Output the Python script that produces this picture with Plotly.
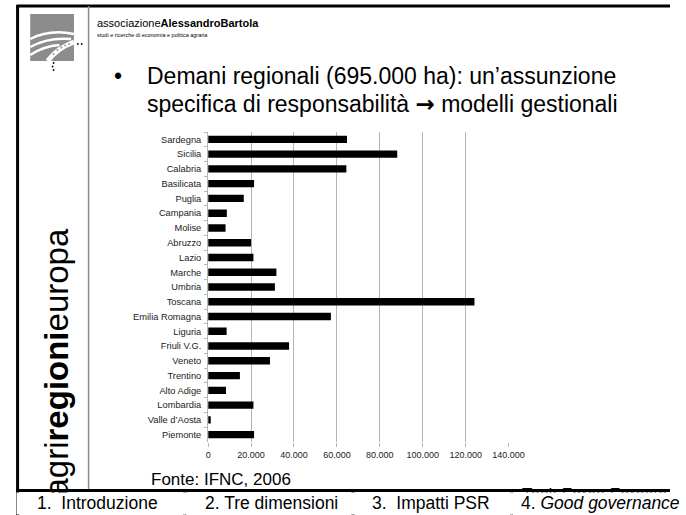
import plotly.graph_objects as go

# ---------------- data ----------------
regions = ["Sardegna", "Sicilia", "Calabria", "Basilicata", "Puglia", "Campania",
           "Molise", "Abruzzo", "Lazio", "Marche", "Umbria", "Toscana",
           "Emilia Romagna", "Liguria", "Friuli V.G.", "Veneto", "Trentino",
           "Alto Adige", "Lombardia", "Valle d’Aosta", "Piemonte"]
hectares = [64700, 88100, 64400, 21400, 16600, 8700,
            8100, 20000, 21100, 31800, 31100, 124100,
            57200, 8600, 37700, 28800, 14800,
            8300, 21100, 1200, 21400]
tick_values = [0, 20000, 40000, 60000, 80000, 100000, 120000, 140000]
tick_labels = ["0", "20.000", "40.000", "60.000", "80.000", "100.000", "120.000", "140.000"]
tabs = ["1.  Introduzione", "2. Tre dimensioni", "3.  Impatti PSR", "4. <i>Good governance</i>"]

W, H = 686, 515
FONT = "Liberation Sans, Arial, sans-serif"


def X(p):
    return p / W


def Y(p):
    return 1 - p / H


fig = go.Figure()
fig.add_trace(go.Bar(
    y=regions, x=hectares, orientation="h",
    marker=dict(color="#000000", line=dict(width=0)),
    hoverinfo="x+y",
))

fig.update_layout(
    width=W, height=H, autosize=False,
    margin=dict(l=0, r=0, t=0, b=0),
    paper_bgcolor="white", plot_bgcolor="white",
    showlegend=False, bargap=0.5,
    font=dict(family=FONT, color="#000"),
    xaxis=dict(
        domain=[X(211), X(520)], range=[0, 140000],
        tickvals=tick_values, ticktext=tick_labels,
        showgrid=True, gridcolor="#b5b5b5", gridwidth=1,
        zeroline=False, showline=False,
        ticks="outside", ticklen=4, tickcolor="#b5b5b5",
        tickfont=dict(size=9, color="#222", family=FONT),
        fixedrange=True,
    ),
    yaxis=dict(
        domain=[Y(442), Y(132)], autorange="reversed",
        type="category",
        showgrid=False, zeroline=False,
        showline=True, linecolor="#b5b5b5", linewidth=1,
        ticks="outside", tickson="boundaries", ticklen=3, tickcolor="#b5b5b5",
        tickfont=dict(size=9.3, color="#222", family=FONT),
        ticklabelstandoff=4,
        fixedrange=True,
    ),
)

shapes = []


def line(x0, y0, x1, y1, color="#000", width=3):
    shapes.append(dict(type="line", xref="paper", yref="paper",
                       x0=X(x0), y0=Y(y0), x1=X(x1), y1=Y(y1),
                       line=dict(color=color, width=width)))


# slide frame
line(15, 5, 15, 515)
line(14, 6, 686, 6)
line(88, 6, 88, 490, color="#8a8a8a", width=1.5)
line(14, 490.5, 686, 490.5)
for xd in (187, 360, 523):
    line(xd, 490, xd, 515)

# logo
shapes.append(dict(type="rect", xref="paper", yref="paper",
                   x0=X(28), y0=Y(61), x1=X(73), y1=Y(14),
                   fillcolor="#8c8c8c", line=dict(width=0)))


def path(d_pts, color="white", width=2.5):
    d = "M {} {} Q {} {} {} {}".format(X(d_pts[0]), Y(d_pts[1]), X(d_pts[2]), Y(d_pts[3]),
                                         X(d_pts[4]), Y(d_pts[5]))
    shapes.append(dict(type="path", xref="paper", yref="paper", path=d,
                       line=dict(color=color, width=width)))


path([28, 39, 48, 29, 73, 34])
path([28, 47, 46, 37, 70, 39])
path([28, 55, 42, 46, 58, 45])
path([46, 61, 56, 48, 73, 42], width=5)
for (cx, cy) in [(52, 54), (56, 50), (60, 47.5), (64, 45.5), (68, 44)]:
    shapes.append(dict(type="circle", xref="paper", yref="paper",
                       x0=X(cx - 0.9), x1=X(cx + 0.9), y0=Y(cy + 0.9), y1=Y(cy - 0.9),
                       fillcolor="#8c8c8c", line=dict(width=0)))
for (cx, cy) in [(77, 44), (81, 44), (52, 63), (51, 66.5), (52, 70)]:
    shapes.append(dict(type="circle", xref="paper", yref="paper",
                       x0=X(cx - 0.9), x1=X(cx + 0.9), y0=Y(cy + 0.9), y1=Y(cy - 0.9),
                       fillcolor="#000", line=dict(width=0)))

fig.update_layout(shapes=shapes)

ann = []


def text(x, y, t, size, xanchor="left", yanchor="middle", family=FONT, **kw):
    ann.append(dict(xref="paper", yref="paper", x=X(x), y=Y(y), text=t,
                    showarrow=False, xanchor=xanchor, yanchor=yanchor,
                    font=dict(size=size, family=family, color=kw.pop("color", "#000")), **kw))


# header
text(95, 23, "associazione<b>AlessandroBartola</b>", 11)
text(95, 35, "studi e ricerche di economia e politica agraria", 5.5)

# title
ARROW = "<span style='font-family:DejaVu Sans;font-weight:bold'>→</span>"
text(112, 76, "•", 23)
text(146, 76, "Demani regionali (695.000 ha): un’assunzione", 23)
text(146, 104, "specifica di responsabilità " + ARROW + " modelli gestionali", 23)

# vertical brand text
text(54, 363, "agri<b>regioni</b>europa", 33, xanchor="center", textangle=-90)

# source + footer
text(150, 479, "Fonte: IFNC, 2006", 17)
text(532, 494, "Task Force Foreste", 17)

# white boxes covering the tab strip
for (x0, x1) in [(17, 185), (189, 358), (362, 521), (525, 686)]:
    ann.append(dict(xref="paper", yref="paper", x=X((x0 + x1) / 2), y=Y(503.5),
                    text=" ", showarrow=False, xanchor="center", yanchor="middle",
                    width=x1 - x0, height=21, bgcolor="white", borderpad=0))

tab_x = [33, 206, 377, 531]
for tx, lab in zip(tab_x, tabs):
    text(tx, 503, lab, 17.5)

fig.update_layout(annotations=ann)

fig.write_html("out.html", config={"displayModeBar": False},
               post_script="document.body.style.margin='0px';")
